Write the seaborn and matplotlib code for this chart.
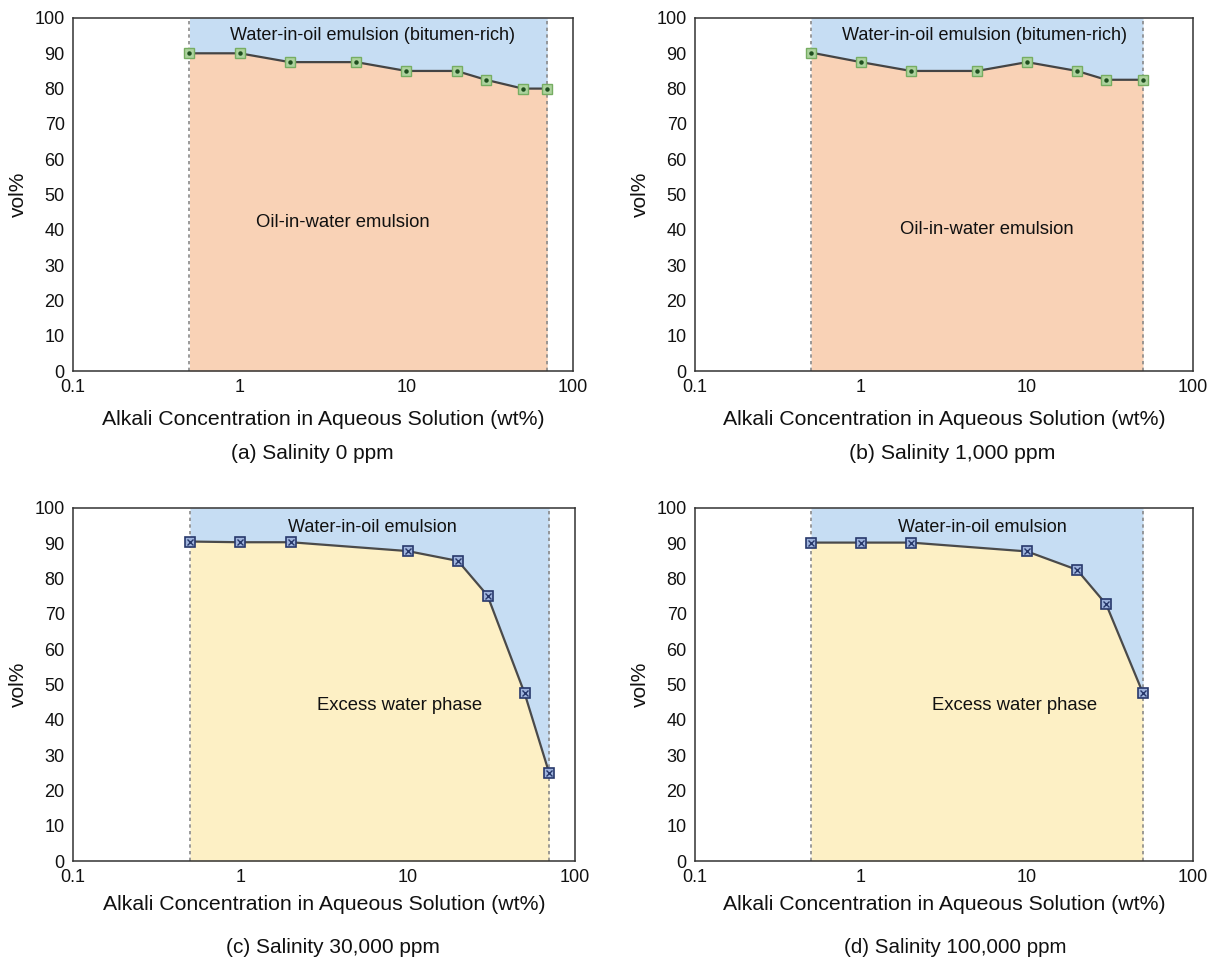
import matplotlib
matplotlib.use("Agg")
import matplotlib.pyplot as plt
import seaborn as sns
import pandas as pd

# ---- data ----
conc_a = [0.5, 1, 2, 5, 10, 20, 30, 50, 70]
vol_a = [90, 90, 87.5, 87.5, 85, 85, 82.5, 80, 80]
conc_b = [0.5, 1, 2, 5, 10, 20, 30, 50]
vol_b = [90.2, 87.5, 85, 85, 87.5, 85, 82.5, 82.5]
conc_c = [0.5, 1, 2, 10, 20, 30, 50, 70]
vol_c = [90.5, 90.3, 90.3, 87.8, 85, 75.2, 47.5, 25]
conc_d = [0.5, 1, 2, 10, 20, 30, 50]
vol_d = [90.2, 90.2, 90.2, 87.7, 82.5, 72.7, 47.5]

captions = ["(a) Salinity 0 ppm", "(b) Salinity 1,000 ppm",
            "(c) Salinity 30,000 ppm", "(d) Salinity 100,000 ppm"]
top_labels = ["Water-in-oil emulsion (bitumen-rich)", "Water-in-oil emulsion (bitumen-rich)",
              "Water-in-oil emulsion", "Water-in-oil emulsion"]
bottom_labels = ["Oil-in-water emulsion", "Oil-in-water emulsion",
                 "Excess water phase", "Excess water phase"]
x_ticks = [0.1, 1, 10, 100]
x_ticklabels = ["0.1", "1", "10", "100"]
y_ticks = [0, 10, 20, 30, 40, 50, 60, 70, 80, 90, 100]
xlabel = "Alkali Concentration in Aqueous Solution (wt%)"
ylabel = "vol%"

sns.set_theme(style="white")
plt.rcParams["font.family"] = ["Liberation Sans", "DejaVu Sans"]

fig = plt.figure(figsize=(12.10, 9.63), dpi=100)
W, H = 1210, 963

# (data, axes box px, fills, marker style, label positions, caption (x, y, size), xlabel pad)
panels = [
    (conc_a, vol_a, 73, 18, 573, 371, "#f9d2b6", "#c6ddf3", "green",
     (0.598, 0.95), (0.54, 0.42), (0.478, -0.235, 15), 10),
    (conc_b, vol_b, 695, 18, 1193, 371, "#f9d2b6", "#c6ddf3", "green",
     (0.582, 0.95), (0.586, 0.40), (0.516, -0.235, 15.3), 10),
    (conc_c, vol_c, 73, 508, 575, 861, "#fdf0c5", "#c6ddf3", "blue",
     (0.596, 0.946), (0.65, 0.44), (0.518, -0.245, 15), 6),
    (conc_d, vol_d, 695, 508, 1193, 861, "#fdf0c5", "#c6ddf3", "blue",
     (0.578, 0.946), (0.642, 0.44), (0.522, -0.245, 14.8), 6),
]

for i, (cx, vy, x0, y0, x1, y1, low_c, up_c, mk, tpos, bpos, cap, xpad) in enumerate(panels):
    ax = fig.add_axes([x0 / W, 1 - y1 / H, (x1 - x0) / W, (y1 - y0) / H])
    ax.set_xscale("log")
    ax.set_xlim(0.1, 100)
    ax.set_ylim(0, 100)
    ax.fill_between(cx, vy, 100, color=up_c, lw=0, zorder=1)
    ax.fill_between(cx, 0, vy, color=low_c, lw=0, zorder=1)
    for xv in (cx[0], cx[-1]):
        ax.vlines(xv, 0, 100, colors="#8a8a8a", linestyles=(0, (2, 2)), lw=1.2, zorder=2)
    df = pd.DataFrame({"conc": cx, "vol": vy})
    if mk == "green":
        sns.lineplot(data=df, x="conc", y="vol", ax=ax, color="#444444", lw=1.6,
                     marker="s", markersize=7, markerfacecolor="#add39e",
                     markeredgecolor="#76ad62", markeredgewidth=1.0, zorder=3)
        ax.plot(cx, vy, "o", ms=2.2, color="#1f4f1f", zorder=4)
    else:
        sns.lineplot(data=df, x="conc", y="vol", ax=ax, color="#4a4a4a", lw=1.6,
                     marker="s", markersize=7, markerfacecolor="#9fb4dd",
                     markeredgecolor="#27386b", markeredgewidth=1.2, zorder=3)
        ax.plot(cx, vy, "x", ms=4, mew=1.0, color="#27386b", zorder=4)
    ax.text(*tpos, top_labels[i], transform=ax.transAxes, ha="center", va="center",
            fontsize=13, color="#111111", zorder=5)
    ax.text(*bpos, bottom_labels[i], transform=ax.transAxes, ha="center", va="center",
            fontsize=13.3, color="#111111", zorder=5)
    ax.set_xticks(x_ticks)
    ax.set_xticklabels(x_ticklabels)
    ax.minorticks_off()
    ax.set_yticks(y_ticks)
    ax.tick_params(axis="both", length=0, labelsize=13, pad=6, colors="#111111")
    ax.set_xlabel(xlabel, fontsize=15.3, color="#111111", labelpad=xpad)
    ax.set_ylabel(ylabel, fontsize=15, color="#111111", labelpad=5)
    for s in ax.spines.values():
        s.set_color("#333333")
        s.set_linewidth(1.1)
    ax.text(cap[0], cap[1], captions[i], transform=ax.transAxes, ha="center", va="center",
            fontsize=cap[2], color="#111111")

fig.savefig("out.png", dpi=100)
